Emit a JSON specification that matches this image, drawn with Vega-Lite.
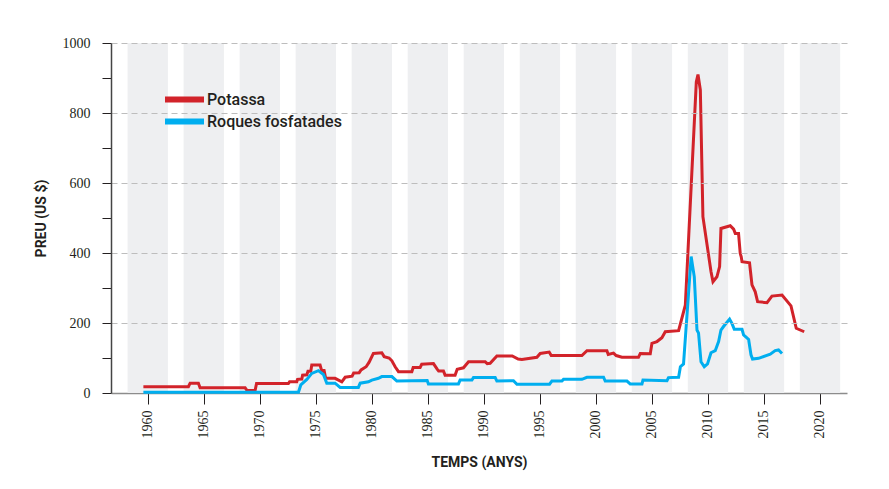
{
  "$schema": "https://vega.github.io/schema/vega-lite/v6.json",
  "width": 736,
  "height": 350,
  "autosize": {"type": "none"},
  "padding": {"left": 111, "top": 43, "right": 42, "bottom": 96},
  "background": "#ffffff",
  "config": {
    "view": {"stroke": null}
  },
  "datasets": {
    "bands": [
      {"start": 1958.2, "end": 1961.8}, {"start": 1963.2, "end": 1966.8}, {"start": 1968.2, "end": 1971.8},
      {"start": 1973.2, "end": 1976.8}, {"start": 1978.2, "end": 1981.8}, {"start": 1983.2, "end": 1986.8},
      {"start": 1988.2, "end": 1991.8}, {"start": 1993.2, "end": 1996.8}, {"start": 1998.2, "end": 2001.8},
      {"start": 2003.2, "end": 2006.8}, {"start": 2008.2, "end": 2011.8}, {"start": 2013.2, "end": 2016.8},
      {"start": 2018.2, "end": 2021.8}
    ],
    "prices": [
      {"series": "Potassa", "year": 1959.61, "value": 18},
      {"series": "Potassa", "year": 1963.63, "value": 18},
      {"series": "Potassa", "year": 1963.78, "value": 28},
      {"series": "Potassa", "year": 1964.52, "value": 28},
      {"series": "Potassa", "year": 1964.67, "value": 15},
      {"series": "Potassa", "year": 1968.69, "value": 15},
      {"series": "Potassa", "year": 1968.87, "value": 7},
      {"series": "Potassa", "year": 1969.58, "value": 7},
      {"series": "Potassa", "year": 1969.71, "value": 27},
      {"series": "Potassa", "year": 1972.55, "value": 27},
      {"series": "Potassa", "year": 1972.66, "value": 32},
      {"series": "Potassa", "year": 1973.3, "value": 32},
      {"series": "Potassa", "year": 1973.37, "value": 39},
      {"series": "Potassa", "year": 1973.75, "value": 40},
      {"series": "Potassa", "year": 1973.82, "value": 51},
      {"series": "Potassa", "year": 1974.2, "value": 52},
      {"series": "Potassa", "year": 1974.3, "value": 62},
      {"series": "Potassa", "year": 1974.55, "value": 62},
      {"series": "Potassa", "year": 1974.64, "value": 80},
      {"series": "Potassa", "year": 1975.38, "value": 80},
      {"series": "Potassa", "year": 1975.52, "value": 64},
      {"series": "Potassa", "year": 1975.74, "value": 64},
      {"series": "Potassa", "year": 1975.88, "value": 42},
      {"series": "Potassa", "year": 1976.72, "value": 42},
      {"series": "Potassa", "year": 1977.32, "value": 32},
      {"series": "Potassa", "year": 1977.62, "value": 45},
      {"series": "Potassa", "year": 1978.24, "value": 48},
      {"series": "Potassa", "year": 1978.38, "value": 57},
      {"series": "Potassa", "year": 1978.87, "value": 58},
      {"series": "Potassa", "year": 1979.04, "value": 66},
      {"series": "Potassa", "year": 1979.49, "value": 75},
      {"series": "Potassa", "year": 1979.76, "value": 88},
      {"series": "Potassa", "year": 1980.14, "value": 113},
      {"series": "Potassa", "year": 1980.89, "value": 115},
      {"series": "Potassa", "year": 1981.1, "value": 104},
      {"series": "Potassa", "year": 1981.54, "value": 100},
      {"series": "Potassa", "year": 1981.79, "value": 92},
      {"series": "Potassa", "year": 1982.08, "value": 75},
      {"series": "Potassa", "year": 1982.38, "value": 61},
      {"series": "Potassa", "year": 1983.57, "value": 61},
      {"series": "Potassa", "year": 1983.69, "value": 73},
      {"series": "Potassa", "year": 1984.31, "value": 73},
      {"series": "Potassa", "year": 1984.45, "value": 82},
      {"series": "Potassa", "year": 1985.5, "value": 84},
      {"series": "Potassa", "year": 1985.83, "value": 68},
      {"series": "Potassa", "year": 1985.96, "value": 63},
      {"series": "Potassa", "year": 1986.39, "value": 63},
      {"series": "Potassa", "year": 1986.54, "value": 51},
      {"series": "Potassa", "year": 1987.43, "value": 51},
      {"series": "Potassa", "year": 1987.62, "value": 68},
      {"series": "Potassa", "year": 1988.18, "value": 72},
      {"series": "Potassa", "year": 1988.63, "value": 89},
      {"series": "Potassa", "year": 1990.12, "value": 89},
      {"series": "Potassa", "year": 1990.3, "value": 84},
      {"series": "Potassa", "year": 1990.56, "value": 85},
      {"series": "Potassa", "year": 1991.16, "value": 106},
      {"series": "Potassa", "year": 1992.53, "value": 106},
      {"series": "Potassa", "year": 1993.06, "value": 97},
      {"series": "Potassa", "year": 1993.39, "value": 96},
      {"series": "Potassa", "year": 1994.73, "value": 102},
      {"series": "Potassa", "year": 1995.03, "value": 113},
      {"series": "Potassa", "year": 1995.83, "value": 117},
      {"series": "Potassa", "year": 1996.01, "value": 107},
      {"series": "Potassa", "year": 1998.75, "value": 107},
      {"series": "Potassa", "year": 1999.2, "value": 121},
      {"series": "Potassa", "year": 2000.98, "value": 121},
      {"series": "Potassa", "year": 2001.1, "value": 110},
      {"series": "Potassa", "year": 2001.57, "value": 114},
      {"series": "Potassa", "year": 2001.81, "value": 107},
      {"series": "Potassa", "year": 2002.32, "value": 102},
      {"series": "Potassa", "year": 2003.8, "value": 102},
      {"series": "Potassa", "year": 2003.96, "value": 113},
      {"series": "Potassa", "year": 2004.85, "value": 112},
      {"series": "Potassa", "year": 2005.0, "value": 142},
      {"series": "Potassa", "year": 2005.45, "value": 147},
      {"series": "Potassa", "year": 2005.89, "value": 158},
      {"series": "Potassa", "year": 2006.19, "value": 175},
      {"series": "Potassa", "year": 2007.38, "value": 178},
      {"series": "Potassa", "year": 2007.98, "value": 251},
      {"series": "Potassa", "year": 2008.96, "value": 889},
      {"series": "Potassa", "year": 2009.11, "value": 910},
      {"series": "Potassa", "year": 2009.32, "value": 866},
      {"series": "Potassa", "year": 2009.55, "value": 504},
      {"series": "Potassa", "year": 2010.27, "value": 347},
      {"series": "Potassa", "year": 2010.45, "value": 318},
      {"series": "Potassa", "year": 2010.8, "value": 332},
      {"series": "Potassa", "year": 2011.04, "value": 361},
      {"series": "Potassa", "year": 2011.16, "value": 470},
      {"series": "Potassa", "year": 2011.99, "value": 478},
      {"series": "Potassa", "year": 2012.29, "value": 468},
      {"series": "Potassa", "year": 2012.44, "value": 456},
      {"series": "Potassa", "year": 2012.73, "value": 456},
      {"series": "Potassa", "year": 2012.88, "value": 399},
      {"series": "Potassa", "year": 2012.97, "value": 389},
      {"series": "Potassa", "year": 2013.04, "value": 375},
      {"series": "Potassa", "year": 2013.71, "value": 372},
      {"series": "Potassa", "year": 2013.93, "value": 309},
      {"series": "Potassa", "year": 2014.22, "value": 289},
      {"series": "Potassa", "year": 2014.43, "value": 261},
      {"series": "Potassa", "year": 2015.27, "value": 258},
      {"series": "Potassa", "year": 2015.71, "value": 277},
      {"series": "Potassa", "year": 2016.61, "value": 280},
      {"series": "Potassa", "year": 2017.41, "value": 249},
      {"series": "Potassa", "year": 2017.88, "value": 185},
      {"series": "Potassa", "year": 2018.59, "value": 175},
      {"series": "Roques fosfatades", "year": 1959.61, "value": 2},
      {"series": "Roques fosfatades", "year": 1973.45, "value": 2},
      {"series": "Roques fosfatades", "year": 1973.66, "value": 23},
      {"series": "Roques fosfatades", "year": 1974.2, "value": 39},
      {"series": "Roques fosfatades", "year": 1974.64, "value": 56},
      {"series": "Roques fosfatades", "year": 1975.23, "value": 64},
      {"series": "Roques fosfatades", "year": 1975.68, "value": 53},
      {"series": "Roques fosfatades", "year": 1975.98, "value": 28},
      {"series": "Roques fosfatades", "year": 1976.72, "value": 28},
      {"series": "Roques fosfatades", "year": 1977.17, "value": 16},
      {"series": "Roques fosfatades", "year": 1978.8, "value": 16},
      {"series": "Roques fosfatades", "year": 1978.96, "value": 28},
      {"series": "Roques fosfatades", "year": 1979.7, "value": 32},
      {"series": "Roques fosfatades", "year": 1980.0, "value": 37},
      {"series": "Roques fosfatades", "year": 1980.59, "value": 42},
      {"series": "Roques fosfatades", "year": 1980.89, "value": 47},
      {"series": "Roques fosfatades", "year": 1981.79, "value": 47},
      {"series": "Roques fosfatades", "year": 1982.23, "value": 34},
      {"series": "Roques fosfatades", "year": 1984.94, "value": 36},
      {"series": "Roques fosfatades", "year": 1985.05, "value": 26},
      {"series": "Roques fosfatades", "year": 1987.73, "value": 26},
      {"series": "Roques fosfatades", "year": 1987.88, "value": 37},
      {"series": "Roques fosfatades", "year": 1988.93, "value": 37},
      {"series": "Roques fosfatades", "year": 1989.07, "value": 44},
      {"series": "Roques fosfatades", "year": 1991.01, "value": 44},
      {"series": "Roques fosfatades", "year": 1991.16, "value": 34},
      {"series": "Roques fosfatades", "year": 1992.64, "value": 35},
      {"series": "Roques fosfatades", "year": 1992.95, "value": 25},
      {"series": "Roques fosfatades", "year": 1995.86, "value": 25},
      {"series": "Roques fosfatades", "year": 1996.07, "value": 34},
      {"series": "Roques fosfatades", "year": 1996.96, "value": 34},
      {"series": "Roques fosfatades", "year": 1997.11, "value": 39},
      {"series": "Roques fosfatades", "year": 1998.75, "value": 39},
      {"series": "Roques fosfatades", "year": 1999.2, "value": 45},
      {"series": "Roques fosfatades", "year": 2000.68, "value": 45},
      {"series": "Roques fosfatades", "year": 2000.83, "value": 34},
      {"series": "Roques fosfatades", "year": 2002.77, "value": 34},
      {"series": "Roques fosfatades", "year": 2003.06, "value": 26},
      {"series": "Roques fosfatades", "year": 2004.11, "value": 26},
      {"series": "Roques fosfatades", "year": 2004.2, "value": 37},
      {"series": "Roques fosfatades", "year": 2006.34, "value": 35},
      {"series": "Roques fosfatades", "year": 2006.48, "value": 44},
      {"series": "Roques fosfatades", "year": 2007.38, "value": 45},
      {"series": "Roques fosfatades", "year": 2007.54, "value": 75},
      {"series": "Roques fosfatades", "year": 2007.82, "value": 83},
      {"series": "Roques fosfatades", "year": 2008.5, "value": 390},
      {"series": "Roques fosfatades", "year": 2008.78, "value": 332},
      {"series": "Roques fosfatades", "year": 2009.02, "value": 180},
      {"series": "Roques fosfatades", "year": 2009.16, "value": 171},
      {"series": "Roques fosfatades", "year": 2009.38, "value": 89},
      {"series": "Roques fosfatades", "year": 2009.67, "value": 75},
      {"series": "Roques fosfatades", "year": 2009.96, "value": 83},
      {"series": "Roques fosfatades", "year": 2010.27, "value": 115},
      {"series": "Roques fosfatades", "year": 2010.65, "value": 121},
      {"series": "Roques fosfatades", "year": 2010.95, "value": 147},
      {"series": "Roques fosfatades", "year": 2011.16, "value": 180},
      {"series": "Roques fosfatades", "year": 2011.39, "value": 190},
      {"series": "Roques fosfatades", "year": 2011.93, "value": 211},
      {"series": "Roques fosfatades", "year": 2012.14, "value": 199},
      {"series": "Roques fosfatades", "year": 2012.35, "value": 182},
      {"series": "Roques fosfatades", "year": 2013.04, "value": 182},
      {"series": "Roques fosfatades", "year": 2013.18, "value": 166},
      {"series": "Roques fosfatades", "year": 2013.63, "value": 153},
      {"series": "Roques fosfatades", "year": 2013.84, "value": 109},
      {"series": "Roques fosfatades", "year": 2013.98, "value": 97},
      {"series": "Roques fosfatades", "year": 2014.52, "value": 99},
      {"series": "Roques fosfatades", "year": 2015.56, "value": 111},
      {"series": "Roques fosfatades", "year": 2016.0, "value": 121},
      {"series": "Roques fosfatades", "year": 2016.3, "value": 123},
      {"series": "Roques fosfatades", "year": 2016.61, "value": 113}
    ]
  },
  "layer": [
    {
      "data": {"name": "bands"},
      "mark": {"type": "rect", "color": "#eeeff1"},
      "encoding": {
        "x": {
          "field": "start", "type": "quantitative",
          "scale": {"domain": [1956.72, 2022.41], "nice": false, "zero": false},
          "axis": {
            "values": [1960, 1965, 1970, 1975, 1980, 1985, 1990, 1995, 2000, 2005, 2010, 2015, 2020],
            "format": "d", "labelAngle": -90, "labelPadding": 6, "tickSize": 11, "tickColor": "#231f20",
            "labelFont": "Liberation Serif", "labelFontSize": 14, "labelColor": "#231f20",
            "domainColor": "#8c8c8c", "domainWidth": 1.5, "grid": false,
            "title": "TEMPS (ANYS)", "titlePadding": 17,
            "titleFont": "Roboto", "titleFontWeight": "bold", "titleFontSize": 14, "titleColor": "#231f20"
          }
        },
        "x2": {"field": "end"}
      }
    },
    {
      "data": {"name": "prices"},
      "mark": {"type": "line", "strokeWidth": 3},
      "encoding": {
        "x": {
          "field": "year", "type": "quantitative",
          "scale": {"domain": [1956.72, 2022.41], "nice": false, "zero": false},
          "axis": {
            "values": [1960, 1965, 1970, 1975, 1980, 1985, 1990, 1995, 2000, 2005, 2010, 2015, 2020],
            "format": "d", "labelAngle": -90, "labelPadding": 6, "tickSize": 11, "tickColor": "#231f20",
            "labelFont": "Liberation Serif", "labelFontSize": 14, "labelColor": "#231f20",
            "domainColor": "#8c8c8c", "domainWidth": 1.5, "grid": false,
            "title": "TEMPS (ANYS)", "titlePadding": 17,
            "titleFont": "Roboto", "titleFontWeight": "bold", "titleFontSize": 14, "titleColor": "#231f20"
          }
        },
        "y": {
          "field": "value", "type": "quantitative",
          "scale": {"domain": [0, 1000], "nice": false},
          "axis": {
            "values": [0, 100, 200, 300, 400, 500, 600, 700, 800, 900, 1000],
            "labelExpr": "datum.value % 200 == 0 ? datum.label : ''",
            "format": "d", "tickSize": 9, "tickColor": "#231f20", "labelPadding": 12,
            "labelFont": "Liberation Serif", "labelFontSize": 14, "labelColor": "#231f20",
            "domainColor": "#444444", "domainWidth": 1.5,
            "grid": true, "gridDash": [6, 4], "gridColor": "#bdbdbd",
            "gridOpacity": {"condition": {"test": "datum.value % 200 == 0 && datum.value > 0", "value": 1}, "value": 0},
            "zindex": 1,
            "title": "PREU (US $)", "titlePadding": 14,
            "titleFont": "Roboto", "titleFontWeight": "bold", "titleFontSize": 14, "titleColor": "#231f20"
          }
        },
        "color": {
          "field": "series", "type": "nominal",
          "scale": {"domain": ["Potassa", "Roques fosfatades"], "range": ["#d2232a", "#00aeef"]},
          "legend": {
            "orient": "none", "legendX": 64, "legendY": 47, "title": null, "padding": 0,
            "symbolType": "M-3,0H3", "symbolSize": 169, "symbolStrokeWidth": 6,
            "labelFont": "Roboto", "labelFontSize": 16, "labelFontWeight": 500, "labelColor": "#231f20",
            "labelOffset": 13, "rowPadding": -4
          }
        }
      }
    }
  ]
}
